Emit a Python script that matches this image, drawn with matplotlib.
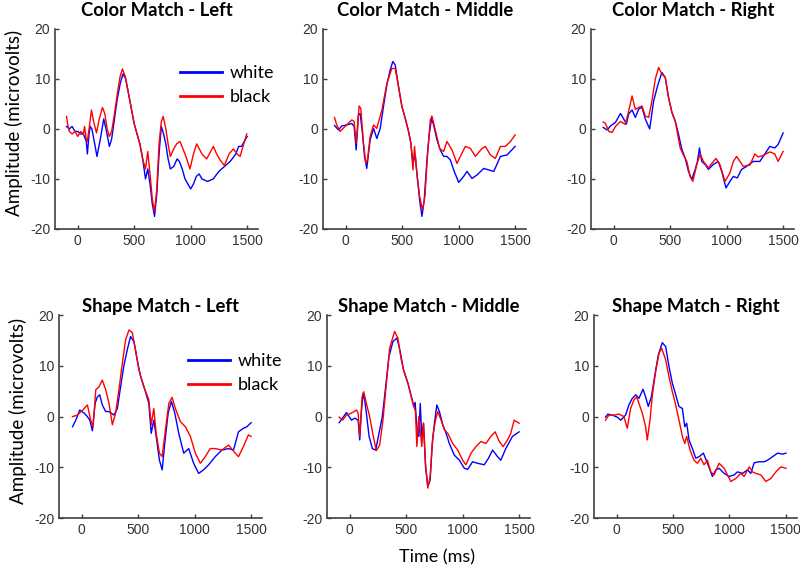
import matplotlib
matplotlib.use("Agg")
import matplotlib.pyplot as plt
from matplotlib.lines import Line2D

plt.rcParams['axes.unicode_minus'] = False

# ---- data (time in ms, amplitude in microvolts) ----
# Color Match - Left
cl_white_t = [-100, -75, -50, -25, 0, 25, 50, 75, 85, 100, 110, 125, 150, 170, 200, 230, 250, 280, 300, 325,
              350, 375, 400, 425, 450, 475, 500, 525, 550, 575, 600, 620, 640, 660, 680, 700, 720, 740, 760, 780,
              800, 820, 850, 880, 900, 925, 950, 975, 1000, 1025, 1050, 1075, 1100, 1150, 1200, 1250, 1300, 1350,
              1400, 1425, 1450, 1475, 1500]
cl_white_v = [0.5, 0, 0.5, -0.5, -0.5, -1, -1, -2.5, -5, -1, 0.5, 0, -3, -5.5, -2, 2, 0, -3.5, -2, 2,
              6, 9, 11, 10, 7, 4, 1, -1, -3, -6, -10, -8, -11, -15, -17.5, -13, -5, 0.5, -1, -3,
              -6, -8, -7.5, -6, -6.5, -8, -10, -11, -12, -11, -9.5, -9, -10, -10.5, -10, -8.5, -7.5, -6.5,
              -5, -3.5, -3.5, -2.5, -1.5]
cl_black_t = [-100, -90, -75, -50, -25, 0, 25, 50, 60, 75, 85, 100, 121, 140, 166, 190, 219, 240, 260, 280,
              300, 325, 350, 375, 396, 420, 450, 475, 500, 525, 550, 575, 600, 620, 640, 660, 680, 700, 720, 740,
              757, 780, 800, 820, 850, 875, 905, 950, 994, 1025, 1053, 1100, 1142, 1201, 1230, 1260, 1299, 1340,
              1379, 1410, 1438, 1470, 1497]
cl_black_v = [2.5, 1, -0.5, -1, -0.5, -1.5, -0.5, -1, 0.5, -2, -2.5, 0, 3.8, 1.5, -0.8, 2, 4.3, 3, 0, -1.5,
              -0.5, 3, 7, 10.5, 12, 10.5, 7, 4, 1, -1, -3, -6, -8, -4.5, -9, -14, -16.5, -12, -3, 1.5,
              2.5, 0, -3, -5.5, -4, -3, -2.5, -5, -8, -5, -3, -5, -6, -3.5, -5, -6.2, -7.3, -5,
              -4, -5, -5.5, -3, -1]

# Color Match - Middle
cm_white_t = [-100, -65, -35, 10, 53, 74, 92, 112, 127, 148, 166, 186, 216, 246, 275, 305, 334, 364, 393, 417,
              438, 467, 497, 527, 556, 577, 595, 615, 630, 654, 675, 695, 719, 740, 760, 778, 808, 837, 867, 896,
              926, 956, 1000, 1044, 1074, 1118, 1163, 1222, 1266, 1311, 1370, 1429, 1500]
cm_white_v = [0.7, -0.2, 0.6, 0.8, 1.1, 0.5, -4.2, 2.8, 3.1, -0.9, -5.5, -7.9, -2.2, 0.1, -1.9, 0.1, 4.5, 8.8, 11.8, 13.5,
              12.8, 8.5, 4.5, 2.1, -0.5, -2.9, -6.9, -5.2, -8.9, -14.2, -17.5, -14.2, -6.2, -0.9, 2.1, 0.8, -2.2, -4.2, -5.5, -5.5,
              -6.2, -8.2, -10.7, -9.5, -8.5, -9.9, -9.2, -7.9, -8.2, -8.5, -5.5, -5.2, -3.5]
cm_black_t = [-100, -80, -50, -6, 53, 74, 92, 118, 133, 157, 178, 192, 216, 246, 275, 320, 364, 408, 438, 467,
              497, 527, 556, 577, 595, 609, 630, 654, 680, 701, 725, 749, 763, 793, 831, 867, 896, 941, 985, 1015,
              1059, 1104, 1148, 1207, 1237, 1281, 1325, 1370, 1414, 1459, 1500]
cm_black_v = [2.3, 0.8, -0.5, 0.5, 1.8, 1.5, -2.9, 4.6, 4.1, -2.9, -6.9, -6.2, -1.5, 0.8, 0.1, 3.8, 9.1, 12.1, 12.1, 8.5,
              4.5, 2.1, -0.5, -2.9, -8.2, -3.5, -8.9, -13.5, -16.2, -13.5, -4.9, 1.8, 2.6, -0.2, -3.9, -4.5, -2.5, -4.2, -6.9, -5.5,
              -3.5, -3.9, -5.5, -3.9, -3.5, -5.2, -5.9, -3.5, -3.5, -2.5, -1.2]

# Color Match - Right
cr_white_t = [-94, -59, -29, 15, 59, 88, 112, 132, 162, 191, 221, 250, 279, 318, 353, 388, 426, 456, 485, 515,
              544, 574, 603, 632, 662, 691, 721, 741, 759, 779, 809, 838, 882, 926, 956, 994, 1029, 1059, 1094, 1132,
              1176, 1235, 1294, 1353, 1382, 1426, 1456, 1500]
cr_white_v = [0.3, -0.2, 0.6, 1.3, 3.1, 2, 1, 3, 3.8, 2.3, 4, 4.3, 2, 0, 5.6, 8.6, 11.3, 10.3, 6.3, 3.3,
              1.6, -1.1, -4.1, -5.8, -8.5, -10.1, -8.1, -6.5, -3.8, -6.5, -7.1, -8.1, -7.1, -6.5, -8.5, -11.8, -10.5, -9.5, -9.8, -8.1,
              -7.5, -6.5, -6.5, -4.5, -3.5, -3.8, -3.1, -0.8]
cr_black_t = [-94, -74, -44, -15, 15, 59, 103, 132, 162, 191, 221, 250, 279, 309, 338, 368, 397, 426, 456, 485,
              515, 544, 588, 612, 647, 676, 700, 735, 765, 794, 838, 882, 906, 941, 985, 1029, 1059, 1088, 1118, 1147,
              1206, 1250, 1279, 1324, 1382, 1426, 1456, 1500]
cr_black_v = [1.4, 1.1, -0.5, -0.7, 0.5, 1.5, 0.9, 3.6, 6.6, 3.9, 4.3, 4.6, 2.6, 2.3, 5.6, 10, 12.3, 11, 10.3, 6.3,
              3.3, 1.6, -3.8, -5, -6.5, -9.5, -10.5, -7.2, -5, -6.5, -7.8, -6.5, -5.9, -7.2, -10.5, -8.8, -6.5, -5.5, -6.5, -7.5,
              -7.2, -5, -5.6, -5.3, -4.6, -5, -6.5, -4.5]

# Shape Match - Left
sl_white_t = [-82, -53, -18, 21, 50, 71, 94, 118, 138, 159, 182, 212, 241, 285, 315, 344, 374, 403, 432, 462,
              491, 521, 559, 594, 615, 638, 659, 688, 712, 735, 765, 794, 824, 859, 903, 947, 991, 1035, 1079, 1124,
              1182, 1241, 1300, 1344, 1388, 1432, 1462, 1500]
sl_white_v = [-2, -0.7, 1.3, 0.7, 0, -0.7, -2.8, 2.6, 3.9, 4.3, 2.3, 1, 1, 0.3, 1.6, 5.9, 10.2, 13.2, 15.8, 14.8,
              11.2, 7.9, 5.3, 2.6, -3.3, -0.7, -3.9, -8.6, -10.5, -5.3, 0.7, 3, 0.7, -3.3, -7.2, -6.3, -9.2, -11.2, -10.5, -9.5,
              -7.9, -6.6, -6.3, -6.6, -3, -2.3, -2, -1.2]
sl_black_t = [-82, -38, 21, 50, 79, 100, 124, 153, 182, 212, 241, 271, 300, 329, 359, 388, 418, 447, 476, 506,
              550, 594, 615, 638, 659, 688, 712, 741, 771, 800, 829, 874, 918, 962, 1006, 1050, 1094, 1138, 1182, 1241,
              1300, 1359, 1388, 1432, 1476, 1500]
sl_black_v = [0, 0.3, 1.6, 2.3, -0.7, -2, 5.3, 5.9, 7.2, 5.3, 2.6, -1.6, 0.7, 5.3, 10.5, 15.1, 17.1, 16.6, 13.2, 9.2,
              5.9, 3.3, -1.6, 1.6, -3.3, -7.2, -7.9, -2.6, 2.6, 3.8, 1.6, -1, -2, -3.9, -7.2, -9.2, -7.9, -6.3, -6.3, -6.6,
              -5.6, -7.2, -7.9, -5.9, -3.6, -3.9]

# Shape Match - Middle
sm_white_t = [-94, -65, -29, 15, 44, 74, 88, 103, 118, 132, 147, 171, 200, 229, 259, 288, 318, 347, 382, 418,
              447, 476, 515, 550, 568, 579, 594, 612, 624, 638, 653, 671, 691, 712, 729, 750, 771, 794, 824, 853,
              882, 926, 971, 1015, 1044, 1088, 1132, 1191, 1229, 1265, 1309, 1338, 1382, 1441, 1500]
sm_white_v = [-1.2, -0.3, 0.8, -0.7, -0.3, -0.7, -4.6, 1, 4.6, 3.3, 0.7, -3.9, -6.3, -6.6, -3.3, 0, 5.9, 11.8, 14.8, 15.5,
              12.8, 9.2, 6.6, 3.6, 2, 2.8, -2, -3.9, 2.6, -3.9, -1.3, -9.9, -13.8, -12.5, -5.9, -1.3, 2.3, 1, -1.6, -3.3,
              -5.3, -7.6, -8.6, -10.2, -10.4, -8.9, -9.2, -9.5, -8.2, -6.6, -7.9, -8.6, -6.3, -3.9, -3]
sm_black_t = [-94, -65, -29, 15, 59, 74, 88, 109, 124, 147, 176, 206, 235, 265, 294, 324, 353, 397, 426, 456,
              476, 515, 559, 582, 594, 612, 624, 638, 653, 671, 691, 712, 735, 759, 779, 809, 838, 868, 912, 956,
              1000, 1029, 1074, 1118, 1162, 1206, 1250, 1288, 1324, 1359, 1397, 1426, 1456, 1500]
sm_black_v = [-0.1, -0.7, 0.3, 0.7, 1.3, 0.7, -3.9, 3.9, 4.9, 2.6, 0, -3.6, -6.7, -5.6, -0.7, 6.6, 13.5, 16.8, 15.5, 11.2,
              9.2, 6.6, 2.6, 1, -5.9, 0, -2.6, -5.9, -1.3, -9.2, -14.1, -11.8, -3.9, -0.7, 1, -0.7, -2.6, -3.3, -5.3, -6.6,
              -8.6, -9.5, -7.2, -5.9, -4.9, -5.3, -3.9, -3, -4.9, -5.9, -4.6, -3.3, -0.7, -1.3]

# Shape Match - Right
sr_white_t = [-98, -77, -38, 6, 36, 80, 109, 139, 169, 198, 234, 257, 281, 308, 337, 370, 405, 435, 464, 494,
              524, 553, 583, 604, 621, 642, 672, 701, 731, 769, 805, 849, 879, 908, 953, 997, 1041, 1071, 1115, 1160,
              1189, 1219, 1263, 1308, 1337, 1382, 1426, 1470, 1500]
sr_white_v = [-0.1, 0.5, 0.3, -0.1, -0.7, 0.3, 2.3, 3.6, 4.3, 3.6, 5.4, 3.9, 2, 3.9, 7.9, 12.2, 14.6, 13.8, 9.9, 6.6,
              4.3, 2, 1.6, -2, -1.3, -4.6, -6.3, -8.2, -7.9, -7.2, -9.2, -11.8, -10.5, -10.2, -11.2, -11.8, -11.5, -10.9, -11.2, -10.5,
              -11.2, -9.1, -8.9, -8.9, -8.6, -7.9, -7.2, -7.4, -7.2]
sr_black_t = [-98, -68, -24, 21, 65, 95, 124, 154, 178, 198, 228, 257, 272, 296, 317, 346, 376, 399, 435, 464,
              494, 524, 553, 583, 604, 621, 651, 686, 716, 746, 775, 805, 834, 864, 908, 953, 1012, 1056, 1101, 1130,
              1175, 1204, 1234, 1278, 1322, 1367, 1411, 1456, 1500]
sr_black_v = [-0.7, 0.3, 0.3, 0.5, 0, -2.3, 1.6, 3.3, 3.9, 2.6, 0.7, -2, -4.6, -0.7, 4.3, 8.9, 12.5, 13.5, 11.2, 7.9,
              4.9, 2.3, -0.7, -3.9, -5.3, -3.9, -6.6, -8.6, -9.2, -8.2, -9.5, -8.6, -10.9, -11.5, -9.2, -10.2, -12.8, -12.2, -11.2, -11.8,
              -9.9, -10.9, -11.2, -11.5, -12.8, -12.2, -10.9, -9.9, -10.2]

titles = ["Color Match - Left", "Color Match - Middle", "Color Match - Right",
          "Shape Match - Left", "Shape Match - Middle", "Shape Match - Right"]
white_series = [(cl_white_t, cl_white_v), (cm_white_t, cm_white_v), (cr_white_t, cr_white_v),
                (sl_white_t, sl_white_v), (sm_white_t, sm_white_v), (sr_white_t, sr_white_v)]
black_series = [(cl_black_t, cl_black_v), (cm_black_t, cm_black_v), (cr_black_t, cr_black_v),
                (sl_black_t, sl_black_v), (sm_black_t, sm_black_v), (sr_black_t, sr_black_v)]
x_ticks = [0, 500, 1000, 1500]
y_ticks = [-20, -10, 0, 10, 20]

boxes = [[0.069, 0.597, 0.254, 0.352], [0.404, 0.597, 0.254, 0.352], [0.739, 0.597, 0.254, 0.352],
         [0.074, 0.088, 0.254, 0.357], [0.409, 0.088, 0.254, 0.357], [0.7425, 0.088, 0.254, 0.357]]

axis_col = "#404040"
fig = plt.figure(figsize=(8, 5.68), dpi=100)

for i in range(6):
    ax = fig.add_axes(boxes[i])
    ax.plot(white_series[i][0], white_series[i][1], color="#0000ff", lw=1.0)
    ax.plot(black_series[i][0], black_series[i][1], color="#ff0000", lw=1.0)
    ax.set_xlim(-200, 1600)
    ax.set_ylim(-20, 20)
    ax.set_xticks(x_ticks)
    ax.set_yticks(y_ticks)
    ax.spines["top"].set_visible(False)
    ax.spines["right"].set_visible(False)
    for s in ["left", "bottom"]:
        ax.spines[s].set_color(axis_col)
        ax.spines[s].set_linewidth(1.2)
    ax.tick_params(direction="in", length=3, width=1, color=axis_col,
                   labelsize=10, labelcolor="#333333")
    for lab in ax.get_xticklabels() + ax.get_yticklabels():
        lab.set_family("Liberation Sans")
    # top row titles sit higher above the axes than the bottom row ones
    pad = 9 if i < 3 else 2
    ax.set_title(titles[i], fontsize=13.3, fontweight="bold", family="Lato", pad=pad)

    if i % 3 == 0:
        ax.set_ylabel("Amplitude (microvolts)", fontsize=13.5, family="Lato")
        ax.yaxis.set_label_coords(-0.16, 0.53)
        handles = [Line2D([], [], color="#0000ff", lw=2), Line2D([], [], color="#ff0000", lw=2)]
        anchor = (0.616, 0.82) if i == 0 else (0.635, 0.813)
        ax.legend(handles, ["white", "black"], loc="upper left", bbox_to_anchor=anchor,
                  frameon=False, prop={"family": "Lato", "size": 13}, handlelength=2.3,
                  handletextpad=0.45, labelspacing=0.45, borderpad=0, borderaxespad=0)

fig.text(0.546, 0.019, "Time (ms)", ha="center", va="center", fontsize=13, family="Lato")

plt.savefig("out.png", dpi=100)
